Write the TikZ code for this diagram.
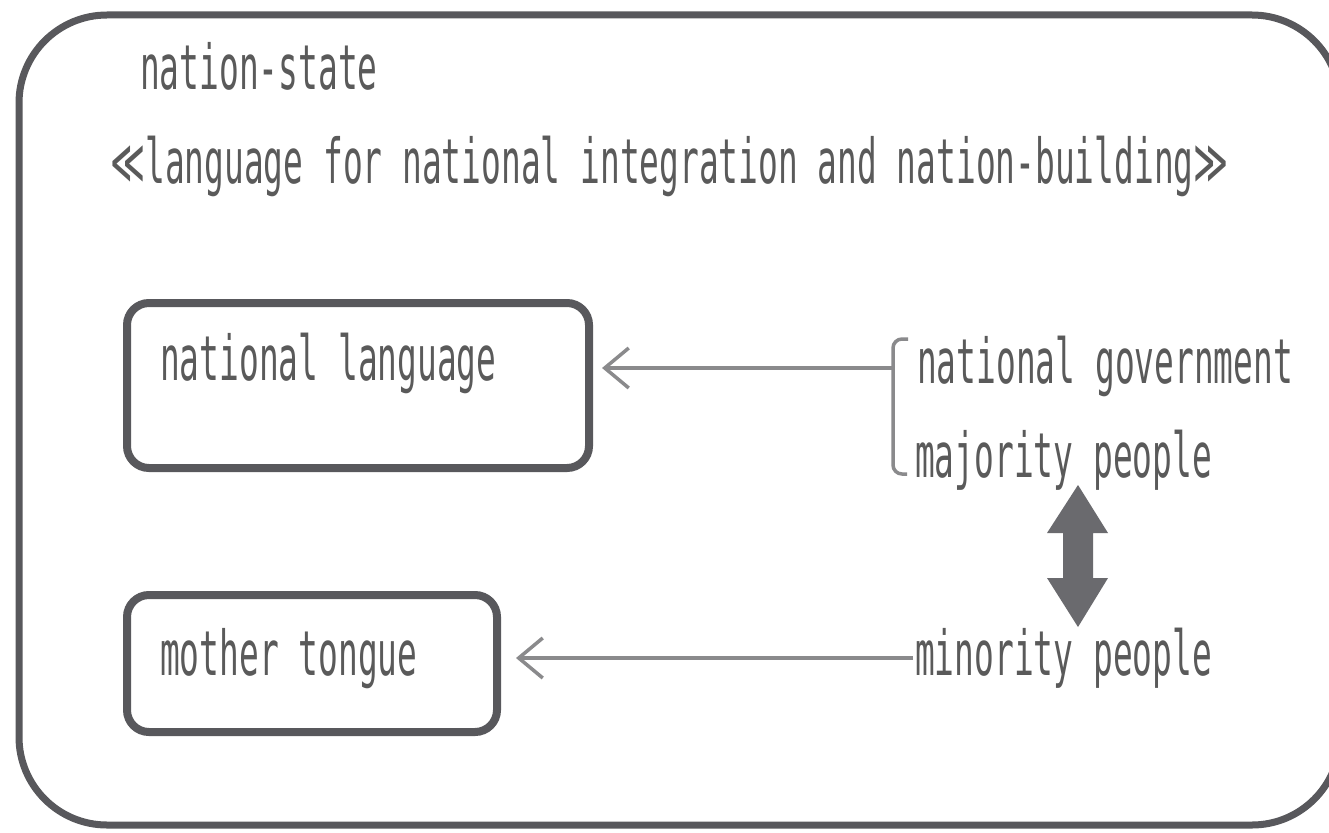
\documentclass[tikz,border=0pt]{standalone}
\usepackage{fontspec}
\usetikzlibrary{arrows.meta}
\newfontfamily\gfont[FakeStretch=0.53]{DejaVu Sans Mono}
\newfontfamily\gsym[FakeStretch=0.54]{DejaVu Sans}
\definecolor{framecol}{HTML}{58585C}
\definecolor{linecol}{HTML}{8A8A8C}
\definecolor{textcol}{HTML}{5A5A5A}
\definecolor{dblcol}{HTML}{6A6A6E}
\tikzset{
  lbl/.style={anchor=base west, inner sep=0pt, text=textcol, font=\gfont\fontsize{62}{62}\selectfont},
  boxstyle/.style={draw=framecol, line width=8pt, rounded corners=22pt, rectangle, inner sep=0pt},
  garrow/.style={draw=linecol, line width=3.5pt, -{Straight Barb[length=24pt,width=40pt,line width=3.5pt]}},
  gline/.style={draw=linecol, line width=3.5pt},
}
\begin{document}
\begin{tikzpicture}[x=1pt,y=-1pt]
\useasboundingbox (0,0) rectangle (1329,832);
\fill[white] (0,0) rectangle (1329,832);
\draw[framecol, line width=7pt, rounded corners=88pt] (19,15) rectangle (1340,825);

\node[lbl] (ns) at (140,90) {nation-state};
\node[lbl] (title) at (110,183) {{\gsym ≪}language for national integration and nation-building{\gsym ≫}};

\node[boxstyle, minimum width=462pt, minimum height=165pt] (nlbox) at (358,385.5) {};
\node[boxstyle, minimum width=370pt, minimum height=137pt] (mtbox) at (312,663.5) {};
\node[lbl] (nltext) at (160,380) {national language};
\node[lbl] (mttext) at (160,675) {mother tongue};

\node[lbl] (gov) at (917,383) {national government};
\node[lbl] (maj) at (915,477) {majority people};
\node[lbl] (mino) at (915,675) {minority people};

% bracket
\draw[gline, rounded corners=9pt] (908,339) -- (893,339) -- (893,474) -- (907,474);
\coordinate (brk) at (893,368);
\coordinate (a2) at (913,658);
\draw[garrow, shorten >=9pt] (brk) -- (nlbox.east |- brk);
\draw[garrow, shorten >=15pt] (a2) -- (mtbox.east |- a2);

% double arrow between majority and minority
\fill[dblcol] (1078,485) -- (1108,533) -- (1093,533) -- (1093,578) -- (1108,578) -- (1078,627)
  -- (1047,578) -- (1063,578) -- (1063,533) -- (1047,533) -- cycle;
\end{tikzpicture}
\end{document}
